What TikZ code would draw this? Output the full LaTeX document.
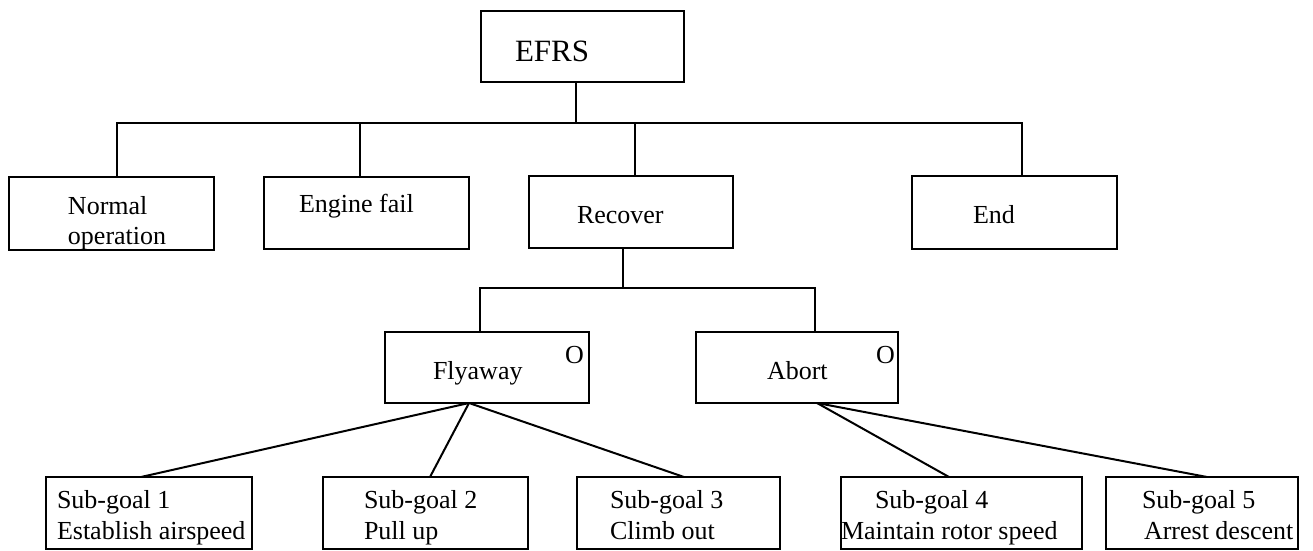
\documentclass[tikz,border=0pt]{standalone}
\usepackage{fontspec}
\setmainfont{Liberation Serif}
\usetikzlibrary{calc}
\newcommand\pbox[5]{\node[box, minimum width={(#4-#2)*0.5pt}, minimum height={(#5-#3)*0.5pt}] (#1) at ({(#2+#4)/2},{(#3+#5)/2}) {};}
\begin{document}
\begin{tikzpicture}[x=0.5pt,y=-0.5pt,
  box/.style={draw, line width=1pt, rectangle, inner sep=0pt, outer sep=0pt},
  lbl/.style={inner sep=0pt, outer sep=0pt, anchor=base west, font=\fontsize{13}{15}\selectfont},
  big/.style={lbl, font=\fontsize{15.5}{18}\selectfont},
  conn/.style={line width=1pt}]
\useasboundingbox (0,0) rectangle (1313,551);
% boxes
\pbox{efrs}{481}{11}{684}{82}
\pbox{nrm}{9}{177}{214}{250}
\pbox{eng}{264}{177}{469}{249}
\pbox{rec}{529}{176}{733}{248}
\pbox{endn}{912}{176}{1117}{249}
\pbox{fly}{385}{332}{589}{403}
\pbox{abt}{696}{332}{898}{403}
\pbox{sg1}{46}{477}{252}{549}
\pbox{sg2}{323}{477}{528}{549}
\pbox{sg3}{577}{477}{780}{549}
\pbox{sg4}{841}{477}{1082}{549}
\pbox{sg5}{1106}{477}{1298}{549}
% texts
\node[big] (tefrs) at (515,62) {EFRS};
\node[lbl] (tn1) at (68,214) {Normal};
\node[lbl] (tn2) at (68,244) {operation};
\node[lbl] (teng) at (299,213) {Engine fail};
\node[lbl] (trec) at (577,223) {Recover};
\node[lbl] (tend) at (973,223) {End};
\node[lbl] (tfly) at (433,379) {Flyaway};
\node[lbl] (tflyo) at (565,363) {O};
\node[lbl] (tabt) at (767,379) {Abort};
\node[lbl] (tabto) at (876,363) {O};
\node[lbl] (ts1a) at (57,508) {Sub-goal 1};
\node[lbl] (ts1b) at (57,539) {Establish airspeed};
\node[lbl] (ts2a) at (364,508) {Sub-goal 2};
\node[lbl] (ts2b) at (364,539) {Pull up};
\node[lbl] (ts3a) at (610,508) {Sub-goal 3};
\node[lbl] (ts3b) at (610,539) {Climb out};
\node[lbl] (ts4a) at (875,508) {Sub-goal 4};
\node[lbl] (ts4b) at (841,539) {Maintain rotor speed};
\node[lbl] (ts5a) at (1142,508) {Sub-goal 5};
\node[lbl] (ts5b) at (1144,539) {Arrest descent};
% junctions
\coordinate (ja) at (576,123);
\coordinate (jl) at (117,123);
\coordinate (je) at (360,123);
\coordinate (jc) at (635,123);
\coordinate (jr) at (1022,123);
\coordinate (kb) at (623,288);
\coordinate (kl) at (480,288);
\coordinate (kr) at (815,288);
% connectors
\draw[conn] (efrs.south -| ja) -- (ja);
\draw[conn] (nrm.north -| jl) -- (jl) -- (jr) -- (endn.north -| jr);
\draw[conn] (je) -- (eng.north -| je);
\draw[conn] (jc) -- (rec.north -| jc);
\draw[conn] (rec.south -| kb) -- (kb);
\draw[conn] (fly.north -| kl) -- (kl) -- (kr) -- (abt.north -| kr);
\draw[conn] ($(fly.south)+(-18,0)$) -- ($(sg1.north)+(-8,0)$);
\draw[conn] ($(fly.south)+(-18,0)$) -- ($(sg2.north)+(4.5,0)$);
\draw[conn] ($(fly.south)+(-18,0)$) -- ($(sg3.north)+(5.5,0)$);
\draw[conn] ($(abt.south)+(20,0)$) -- ($(sg4.north)+(-12.5,0)$);
\draw[conn] ($(abt.south)+(20,0)$) -- ($(sg5.north)+(5,0)$);
\end{tikzpicture}
\end{document}
